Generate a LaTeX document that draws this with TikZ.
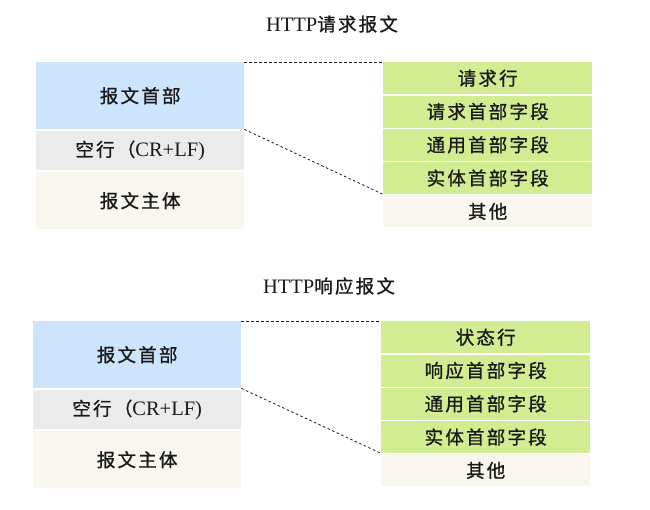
\documentclass[tikz,border=0pt]{standalone}
\usepackage{fontspec}
\setmainfont{Liberation Serif}
\newfontfamily\cjk[FakeBold=1,LetterSpace=12]{Noto Sans CJK SC}
\definecolor{cblue}{RGB}{205,228,253}
\definecolor{cgray}{RGB}{235,235,235}
\definecolor{cbeige}{RGB}{248,246,238}
\definecolor{cgreen}{RGB}{209,236,145}
\definecolor{ctext}{RGB}{25,25,25}
\newcommand{\zh}[1]{{\fontsize{18.5}{20}\cjk #1}}
\begin{document}
\begin{tikzpicture}[x=1pt,y=-1pt,
  box/.style={draw=none, inner sep=0pt, anchor=north west, text=ctext,
    font=\fontsize{20.5}{22}\selectfont},
  lbox/.style={box, minimum width=208pt},
  rbox/.style={box, minimum width=209pt, minimum height=32pt, fill=cgreen},
  ttl/.style={inner sep=0pt, text=ctext, font=\fontsize{20.5}{22}\selectfont},
  link/.style={draw=ctext, line width=0.8pt, dash pattern=on 2.5pt off 2.5pt}]
\useasboundingbox (0,0) rectangle (650,509);
% ---------- request ----------
\node[ttl] (qt) at (332,24) {HTTP\zh{请求报文}};
\node[lbox, fill=cblue, minimum height=67pt] (qh) at (36,62) {\zh{报文首部}};
\node[lbox, fill=cgray, minimum height=39pt] (qe) at (36,131) {\zh{空行（}CR+LF)};
\node[lbox, fill=cbeige, minimum height=57pt] (qb) at (36,172) {\zh{报文主体}};
\node[rbox] (q1) at (383,62) {\zh{请求行}};
\node[rbox] (q2) at (383,95.3) {\zh{请求首部字段}};
\node[rbox] (q3) at (383,128.6) {\zh{通用首部字段}};
\node[rbox] (q4) at (383,161.9) {\zh{实体首部字段}};
\node[rbox, fill=cbeige] (q5) at (383,195.2) {\zh{其他}};
\draw[link] (qh.north east) -- (q1.north west);
\draw[link] (qh.south east) -- (q4.south west);
% ---------- response ----------
\node[ttl] (rt) at (329,286) {HTTP\zh{响应报文}};
\node[lbox, fill=cblue, minimum height=67pt] (rh) at (33,321) {\zh{报文首部}};
\node[lbox, fill=cgray, minimum height=39pt] (re) at (33,390) {\zh{空行（}CR+LF)};
\node[lbox, fill=cbeige, minimum height=57pt] (rb) at (33,431) {\zh{报文主体}};
\node[rbox] (r1) at (381,321) {\zh{状态行}};
\node[rbox] (r2) at (381,354.3) {\zh{响应首部字段}};
\node[rbox] (r3) at (381,387.6) {\zh{通用首部字段}};
\node[rbox] (r4) at (381,420.9) {\zh{实体首部字段}};
\node[rbox, fill=cbeige] (r5) at (381,454.2) {\zh{其他}};
\draw[link] (rh.north east) -- (r1.north west);
\draw[link] (rh.south east) -- (r4.south west);
\end{tikzpicture}
\end{document}
